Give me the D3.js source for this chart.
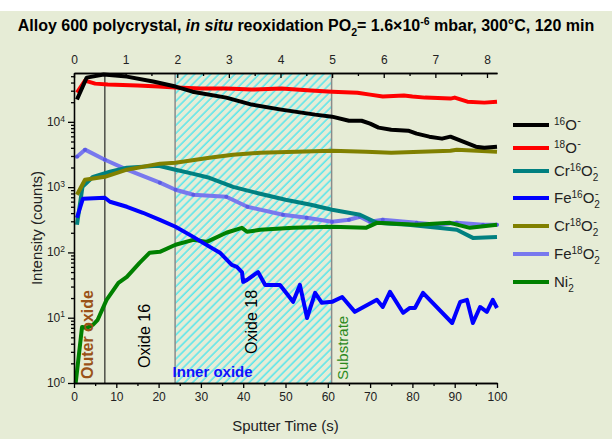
<!DOCTYPE html>
<html>
<head>
<meta charset="utf-8">
<script src="https://cdn.jsdelivr.net/npm/d3@7"></script>
<style>
body { margin: 0; background: #fff; }
text { font-family: "Liberation Sans", Arial, sans-serif; }
</style>
</head>
<body>
<svg width="612" height="439"></svg>
<script>
// sputter time (s) and intensity (counts) for each ion
var tO16 = [0.7, 3, 7, 12.5, 18.7, 24, 28, 36, 42, 49, 57, 61, 65, 68, 70, 72, 75, 79, 81, 84, 87, 89, 92, 95, 97, 100];
var O16 = [22000, 47600, 53000, 49300, 41400, 34700, 29000, 23500, 18400, 15400, 12900, 12000, 10400, 10400, 9400, 8150, 7590, 7330, 6590, 5930, 5530, 5930, 4970, 4170, 4020, 4170];

var tO18 = [0.7, 2.6, 5, 8, 15, 20, 24, 30, 36, 42, 49, 56, 61, 67, 70, 73, 78, 80, 83, 89, 90, 93, 97, 100];
var O18 = [28000, 42800, 38500, 37200, 35900, 34700, 33500, 32300, 32300, 31200, 32300, 30100, 29000, 28000, 26100, 24400, 25300, 24400, 23500, 22700, 23500, 20400, 19700, 20400];

var tCr16 = [0.7, 2, 4.5, 8.5, 12.5, 20, 24, 28, 32, 37.6, 44, 50, 56, 61, 67.6, 71.6, 79, 86, 90.5, 94.3, 100];
var Cr16 = [265, 1010, 1440, 1720, 1990, 2130, 1850, 1610, 1390, 1010, 792, 641, 537, 450, 377, 284, 265, 238, 222, 167, 173];

var tFe16 = [0.7, 2.1, 7.3, 8.5, 12.5, 16.3, 20.3, 24, 28.2, 30.5, 34.5, 37.3, 38.5, 39.7, 40, 40.9, 43.5, 45.2, 48.7, 51.8, 53.4, 55.1, 57, 58.6, 61, 63.4, 66.4, 71.6, 73, 74.7, 77.8, 79.4, 80.6, 82.5, 89.4, 91.3, 92.9, 94.3, 96, 97.6, 99, 100];
var Fe16 = [340, 664, 687, 597, 500, 405, 316, 247, 173, 140, 99, 64.5, 60, 50, 35.4, 38, 50, 31.8, 31.8, 17.5, 31.8, 9.9, 24, 16.9, 17.5, 20.8, 12.3, 18.8, 14.6, 24.9, 11.9, 14.1, 14.1, 24, 8.3, 17.5, 18.8, 8.3, 14.6, 12.3, 18.8, 14.1];

var tCr18 = [0.7, 2.6, 7.3, 12.5, 20.3, 24, 32, 37.6, 44, 61, 69, 75, 89, 90.5, 100];
var Cr18 = [765, 1300, 1440, 1850, 2290, 2370, 2820, 3140, 3370, 3620, 3490, 3370, 3620, 3750, 3490];

var tFe18 = [0.7, 2.6, 7.3, 12.5, 20.3, 24, 28.2, 36, 41, 49.4, 55, 61, 65, 67.6, 70, 73, 81, 85.8, 90.5, 96.7, 100];
var Fe18 = [2930, 3750, 2630, 1850, 1170, 912, 765, 713, 500, 377, 340, 294, 316, 352, 294, 316, 284, 265, 284, 265, 265];

var tNi = [0.4, 1.9, 3, 4.5, 5.6, 7.7, 10.5, 12.5, 15.5, 17.9, 20.3, 24, 28.2, 31.4, 36, 39.7, 40.9, 44, 51.8, 61, 69, 71.6, 81, 88.9, 93.6, 100];
var Ni = [1, 7.2, 7, 7.8, 9.3, 18.8, 34.2, 42.2, 69.2, 99, 102, 131, 156, 145, 200, 238, 207, 222, 238, 247, 238, 284, 265, 284, 238, 265];

var xTicks = [0, 10, 20, 30, 40, 50, 60, 70, 80, 90, 100];
var depthTicks = [0, 1, 2, 3, 4, 5, 6, 7, 8];
var yTicks = [1, 10, 100, 1000, 10000];

var series = [
	{ t: tFe18, v: Fe18, color: "#7878ee", dots: true },
	{ t: tCr16, v: Cr16, color: "#008080" },
	{ t: tCr18, v: Cr18, color: "#808000" },
	{ t: tNi, v: Ni, color: "#008000" },
	{ t: tFe16, v: Fe16, color: "#0000ff" },
	{ t: tO18, v: O18, color: "#ff0000" },
	{ t: tO16, v: O16, color: "#000000" }
];

// legend labels: ion name, mass number (superscript), subscript count
var legendColors = ["#000000", "#ff0000", "#008080", "#0000ff", "#808000", "#7878ee", "#008000"];
var legendElem = ["", "", "Cr", "Fe", "Cr", "Fe", "Ni"];
var legendMass = ["16", "18", "16", "16", "18", "18", ""];
var legendOx = ["O", "O", "O", "O", "O", "O", ""];
var legendSub = ["", "", "2", "2", "2", "2", "2"];
var legendY = [125, 148, 171, 198, 226, 254, 282];

var svg = d3.select("svg");
var pLeft = 74, pRight = 497, pTop = 73, pBottom = 383;

svg.append("rect").attr("x", 0).attr("y", 11).attr("width", 612).attr("height", 428).attr("fill", "#e6ecd6");

var x = d3.scaleLinear().domain([0, 100]).range([pLeft, pRight]);
var xTop = d3.scaleLinear().domain([0, 8.194]).range([pLeft, pRight]);
var y = d3.scaleLog().domain([1, 56000]).range([pBottom, pTop]);

function addParts(sel, parts, big, small) {
	var cur = 0;
	parts.forEach(function(p) {
		var off = p[1] == "sup" ? -big * 0.36 : (p[1] == "sub" ? big * 0.3 : 0);
		sel.append("tspan").text(p[0])
			.attr("dy", off - cur)
			.attr("font-size", p[1] == "" ? big : small);
		cur = off;
	});
}

// title
var title = svg.append("text").attr("x", 306).attr("y", 31)
	.attr("text-anchor", "middle").attr("font-weight", "bold");
addParts(title, [["Alloy 600 polycrystal, ", ""]], 16, 10.5);
title.append("tspan").attr("font-style", "italic").attr("font-size", 16).text("in situ");
addParts(title, [[" reoxidation PO", ""], ["2", "sub"], ["= 1.6×10", ""], ["-6", "sup"], [" mbar, 300°C, 120 min", ""]], 16, 10.5);

// hatched inner oxide zone
var defs = svg.append("defs");
var pat = defs.append("pattern").attr("id", "hatch")
	.attr("patternUnits", "userSpaceOnUse")
	.attr("width", 5.7).attr("height", 5.7)
	.attr("patternTransform", "rotate(45)");
pat.append("line").attr("x1", 2).attr("y1", 0).attr("x2", 2).attr("y2", 5.7)
	.attr("stroke", "#1ee4f4").attr("stroke-width", 1.1);

svg.append("rect")
	.attr("x", x(23.9)).attr("y", pTop)
	.attr("width", x(60.9) - x(23.9)).attr("height", pBottom - pTop)
	.attr("fill", "url(#hatch)");
[23.9, 60.9].forEach(function(d) {
	svg.append("line").attr("x1", x(d)).attr("x2", x(d)).attr("y1", pTop).attr("y2", pBottom)
		.attr("stroke", "#8a8a8a").attr("stroke-width", 1.5);
});
svg.append("line").attr("x1", x(7.3)).attr("x2", x(7.3)).attr("y1", pTop).attr("y2", pBottom)
	.attr("stroke", "#000").attr("stroke-width", 1);

// profiles
var line = d3.line()
	.x(function(d) { return x(d[0]); })
	.y(function(d) { return y(d[1]); });

series.forEach(function(s) {
	var pts = s.t.map(function(t, i) { return [t, s.v[i]]; });
	svg.append("path").datum(pts)
		.attr("d", line)
		.attr("fill", "none")
		.attr("stroke", s.color)
		.attr("stroke-width", 4)
		.attr("stroke-linejoin", "round");
	if (s.dots) {
		svg.selectAll(null).data(pts).enter().append("circle")
			.attr("cx", function(d) { return x(d[0]); })
			.attr("cy", function(d) { return y(d[1]); })
			.attr("r", 2).attr("fill", "#5a5ae4");
	}
});

// axes
function styleAxis(g) {
	g.selectAll("path, line").attr("stroke", "#000").attr("stroke-width", 1.3);
	g.selectAll("text").attr("font-size", 12).attr("fill", "#222")
		.attr("font-family", "Liberation Sans, Arial, sans-serif");
}

svg.append("g").attr("transform", "translate(0," + pBottom + ")")
	.call(d3.axisBottom(x).tickValues(xTicks).tickSize(5).tickSizeOuter(0).tickPadding(4))
	.call(styleAxis);
svg.append("g").attr("transform", "translate(0," + pBottom + ")")
	.call(d3.axisBottom(x).tickValues(d3.range(5, 100, 10)).tickSize(3).tickSizeOuter(0).tickFormat(""))
	.call(styleAxis);

svg.append("g").attr("transform", "translate(0," + pTop + ")")
	.call(d3.axisTop(xTop).tickValues(depthTicks).tickSize(-5).tickSizeOuter(0).tickPadding(9).tickFormat(d3.format("d")))
	.call(styleAxis);
svg.append("g").attr("transform", "translate(0," + pTop + ")")
	.call(d3.axisTop(xTop).tickValues(d3.range(0.5, 8.2, 1)).tickSize(-3).tickSizeOuter(0).tickFormat(""))
	.call(styleAxis);

var minors = [];
for (var e = 0; e < 5; e++) for (var m = 2; m < 10; m++) {
	var v = m * Math.pow(10, e);
	if (v < 56000) minors.push(v);
}
svg.append("g").attr("transform", "translate(" + pLeft + ",0)")
	.call(d3.axisLeft(y).tickValues(yTicks).tickSize(6).tickSizeOuter(0).tickFormat(""))
	.call(styleAxis);
svg.append("g").attr("transform", "translate(" + pLeft + ",0)")
	.call(d3.axisLeft(y).tickValues(minors).tickSize(3).tickSizeOuter(0).tickFormat(""))
	.call(styleAxis);

yTicks.forEach(function(v) {
	var t = svg.append("text").attr("x", 65).attr("y", y(v) + 4)
		.attr("text-anchor", "end").attr("fill", "#222");
	addParts(t, [["10", ""], [String(Math.round(Math.log10(v))), "sup"]], 12, 8.5);
});

svg.append("text").attr("transform", "translate(42," + ((pTop + pBottom) / 2) + ") rotate(-90)")
	.attr("text-anchor", "middle").attr("font-size", 15).attr("fill", "#222")
	.text("Intensity (counts)");
svg.append("text").attr("x", (pLeft + pRight) / 2).attr("y", 431)
	.attr("text-anchor", "middle").attr("font-size", 15).attr("fill", "#222")
	.text("Sputter Time (s)");

// zone labels
function vlabel(tx, ty, txt, color, bold, size) {
	svg.append("text").attr("transform", "translate(" + tx + "," + ty + ") rotate(-90)")
		.attr("font-size", size).attr("fill", color)
		.attr("font-weight", bold ? "bold" : "normal")
		.text(txt);
}
vlabel(x(4.6), 379, "Outer oxide", "#9a5218", true, 16);
vlabel(x(18), 368, "Oxide 16", "#000", false, 16);
vlabel(x(43.2), 354, "Oxide 18", "#000", false, 16);
vlabel(x(64.8), 380, "Substrate", "#2b8a1c", false, 15);
svg.append("text").attr("x", x(23.3)).attr("y", 377)
	.attr("font-size", 15).attr("font-weight", "bold").attr("fill", "#1010ff")
	.text("Inner oxide");

// legend: name text, then the charge sign as its own text above the subscript
legendColors.forEach(function(c, i) {
	var ly = legendY[i];
	svg.append("line").attr("x1", 513).attr("x2", 549).attr("y1", ly).attr("y2", ly)
		.attr("stroke", c).attr("stroke-width", 4);
	var t = svg.append("text").attr("x", 554).attr("y", ly + 5).attr("fill", "#222");
	var parts = [];
	if (legendElem[i]) parts.push([legendElem[i], ""]);
	if (legendMass[i]) parts.push([legendMass[i], "sup"]);
	if (legendOx[i]) parts.push([legendOx[i], ""]);
	if (legendSub[i]) parts.push([legendSub[i], "sub"]);
	addParts(t, parts, 15, 10);
	var w = t.node().getComputedTextLength();
	var sx = legendSub[i] ? 554 + w - 5 : 554 + w + 0.5;
	svg.append("text").attr("x", sx).attr("y", ly - 1)
		.attr("font-size", 11).attr("fill", "#222").text("-");
});
</script>
</body>
</html>
